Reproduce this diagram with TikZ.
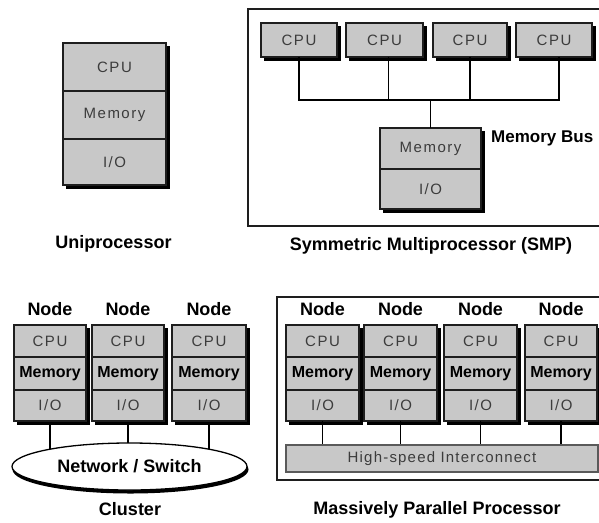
\documentclass[tikz,border=0pt]{standalone}
\usepackage{fontspec}
\setmainfont{Liberation Sans}
\usetikzlibrary{shapes.geometric}

\definecolor{cellfill}{RGB}{200,200,200}
\definecolor{celltext}{RGB}{60,60,60}
\definecolor{edge}{RGB}{30,30,30}
\definecolor{bargray}{RGB}{90,90,90}

\newcommand\cellfont{\fontsize{15}{17}\selectfont\addfontfeature{LetterSpace=10}}
\newcommand\membold{\fontsize{16}{18}\selectfont\bfseries}
\newcommand\labelfont{\fontsize{18}{21}\selectfont\bfseries}

\pgfdeclarelayer{back}
\pgfsetlayers{back,main}

\tikzset{
  cell/.style={rectangle, draw=edge, line width=1.2pt, fill=cellfill,
    inner sep=0pt, outer sep=0pt, text=celltext, font=\cellfont},
  boldmem/.style={text=black, font=\membold},
  caption/.style={inner sep=0pt, font=\labelfont, text=black},
  frame/.style={rectangle, draw=edge, line width=1.5pt, fill=none, inner sep=0pt},
  wire/.style={draw=black, line width=1.2pt},
  shadowfill/.style={fill=black},
  network/.style={ellipse, draw=black, line width=1.3pt, fill=white,
    inner sep=0pt, font=\labelfont},
  busbar/.style={rectangle, draw=bargray, line width=1.5pt, fill=cellfill,
    inner sep=0pt, text=celltext,
    font=\fontsize{15}{17}\selectfont\addfontfeature{LetterSpace=8}}
}

\begin{document}
\begin{tikzpicture}[x=1pt, y=-1pt]
\useasboundingbox (0,0) rectangle (599,522);
\clip (0,0) rectangle (599,522);

% ---------- drop shadows (drawn first, offset 3 right / 3 down) ----------
\fill[shadowfill] (66,46) rectangle (169.5,188.5);
\foreach \x/\w in {299/76, 384.5/77, 470/74, 554/76}
  \fill[shadowfill] ({\x-\w/2+3},26) rectangle ({\x+\w/2+3.5},60.5);
\fill[shadowfill] (383,131) rectangle (484.5,212.5);
\foreach \x/\w in {50/72, 128/72, 209/74, 322.5/73, 400.5/73, 480.5/73, 561/72}
  \fill[shadowfill] ({\x-\w/2+3},328) rectangle ({\x+\w/2+3.5},424.5);
\fill[shadowfill] (130.5,469.5) ellipse (118pt and 24pt);

% ---------- Uniprocessor ----------
\node[cell, minimum width=103pt, minimum height=48pt] (u-cpu) at (114.5,67) {CPU};
\node[cell, minimum width=103pt, minimum height=48pt, anchor=north] (u-mem) at (u-cpu.south) {Memory};
\node[cell, minimum width=103pt, minimum height=46pt, anchor=north] (u-io) at (u-mem.south) {I/O};
\node[caption, anchor=base] (u-title) at (113.5,248) {Uniprocessor};

% ---------- Symmetric multiprocessor ----------
\node[frame, anchor=north west, minimum width=373pt, minimum height=217pt] (smp) at (247,8) {};
\foreach \i/\x/\w in {1/299/76, 2/384.5/77, 3/470/74, 4/554/76}
  \node[cell, minimum width=\w pt, minimum height=34pt] (s-cpu\i) at (\x,40) {CPU};
\node[cell, minimum width=101pt, minimum height=41pt] (s-mem) at (430.5,148.5) {Memory};
\node[cell, minimum width=101pt, minimum height=40pt, anchor=north] (s-io) at (s-mem.south) {I/O};
\node[caption, anchor=base west, font=\fontsize{17}{20}\selectfont\bfseries] (s-bus) at (491,142) {Memory Bus};
\node[caption, anchor=base] (s-title) at (431,250) {Symmetric Multiprocessor (SMP)};

\coordinate (bus) at (s-mem.north |- 0,100);
\draw[wire] (s-cpu1.south) |- (bus) -| ([xshift=5pt]s-cpu4.south);
\draw[wire] ([xshift=4pt]s-cpu2.south) -- ([xshift=4pt]s-cpu2.south |- bus);
\draw[wire] (s-cpu3.south) -- (s-cpu3.south |- bus);
\draw[wire] (bus) -- (s-mem.north);

% ---------- Cluster ----------
\foreach \i/\x/\w in {1/50/72, 2/128/72, 3/209/74} {
  \node[caption, anchor=base] (k-lab\i) at (\x,315) {Node};
  \node[cell, minimum width=\w pt, minimum height=32pt] (k-cpu\i) at (\x,341) {CPU};
  \node[cell, boldmem, minimum width=\w pt, minimum height=33pt, anchor=north] (k-mem\i) at (k-cpu\i.south) {Memory};
  \node[cell, minimum width=\w pt, minimum height=31pt, anchor=north] (k-io\i) at (k-mem\i.south) {I/O};
}
\node[network, minimum width=235pt, minimum height=47pt] (net) at (129.5,466.5) {Network / Switch};
\begin{pgfonlayer}{back}
  \foreach \i in {1,2,3}
    \draw[wire] (k-io\i.south) -- (k-io\i.south |- net.center);
\end{pgfonlayer}
\node[caption, anchor=base] (k-title) at (130,515) {Cluster};

% ---------- Massively parallel processor ----------
\node[frame, anchor=north west, minimum width=344pt, minimum height=183pt] (mpp) at (276,296) {};
\foreach \i/\x/\w in {1/322.5/73, 2/400.5/73, 3/480.5/73, 4/561/72} {
  \node[caption, anchor=base] (m-lab\i) at (\x,315) {Node};
  \node[cell, minimum width=\w pt, minimum height=32pt] (m-cpu\i) at (\x,341) {CPU};
  \node[cell, boldmem, minimum width=\w pt, minimum height=33pt, anchor=north] (m-mem\i) at (m-cpu\i.south) {Memory};
  \node[cell, minimum width=\w pt, minimum height=31pt, anchor=north] (m-io\i) at (m-mem\i.south) {I/O};
}
\node[busbar, minimum width=312pt, minimum height=27pt] (hsi) at (442,458.5) {High-speed Interconnect};
\foreach \i in {1,2,3,4}
  \draw[wire] (m-io\i.south) -- (m-io\i.south |- hsi.north);
\node[caption, anchor=base] (m-title) at (437,514) {Massively Parallel Processor};
\end{tikzpicture}
\end{document}
